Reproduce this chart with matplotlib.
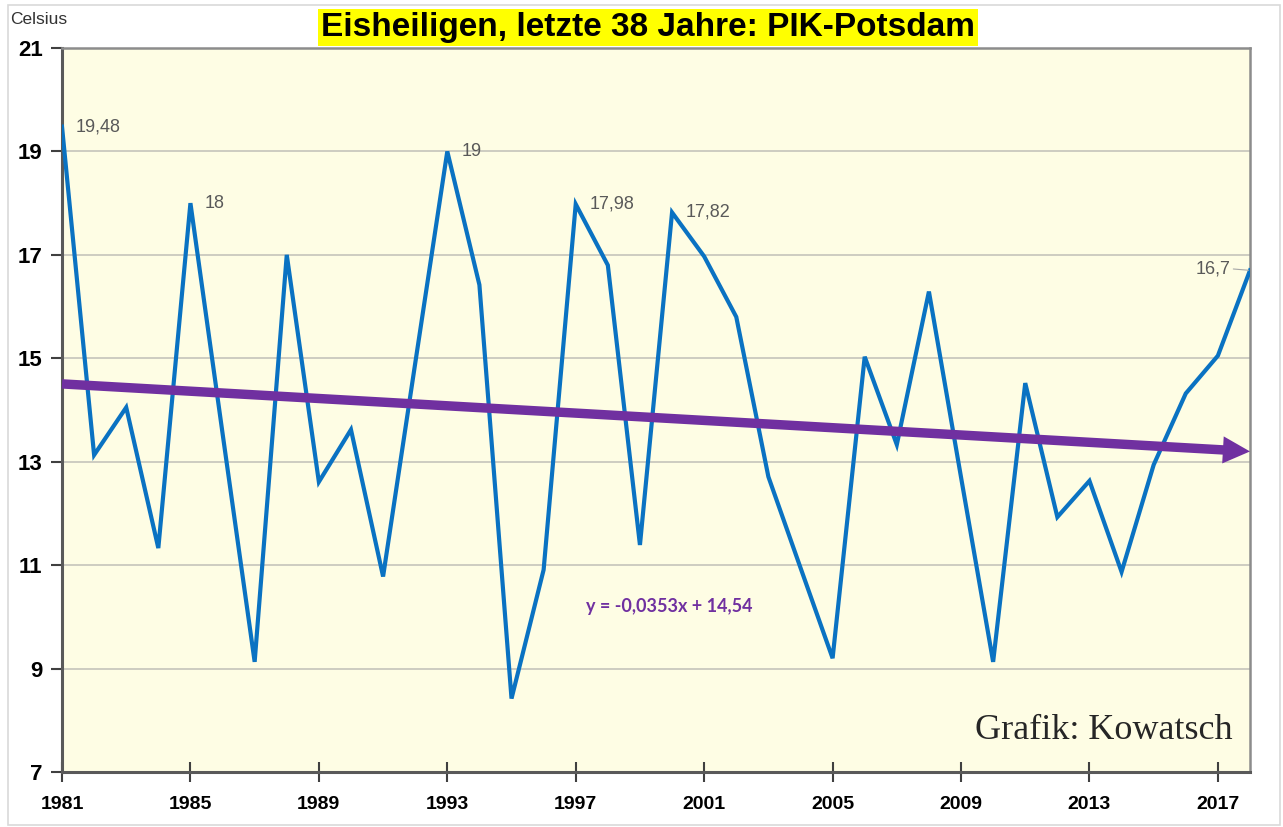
import matplotlib
matplotlib.use("Agg")
import matplotlib.pyplot as plt
from matplotlib.patches import FancyArrowPatch

# data (Eisheiligen, PIK Potsdam)
years = list(range(1981, 2019))
temps = [19.48, 13.13, 14.05, 11.33, 18.0, 13.55, 9.13, 17.0, 12.61, 13.62,
         10.78, 14.9, 19.0, 16.42, 8.42, 10.91, 17.98, 16.8, 11.39, 17.82,
         16.97, 15.8, 12.71, 10.95, 9.2, 15.03, 13.33, 16.29, 12.7, 9.13,
         14.52, 11.93, 12.63, 10.87, 12.94, 14.32, 15.05, 16.7]

# linear trend as printed in the chart: y = -0,0353x + 14,54 (x = 1..38)
slope = -0.0353
intercept = 14.54

# values that get a data label, and where the label goes
label_years = [1981, 1985, 1993, 1997, 2000, 2018]
label_side = ['right', 'right', 'right', 'right', 'right', 'left']

yticks = [7, 9, 11, 13, 15, 17, 19, 21]
xticks = list(range(1981, 2018, 4))

blue = '#0A72C2'
purple = '#7030A0'

plt.rcParams['font.family'] = ['Liberation Sans', 'DejaVu Sans']

fig = plt.figure(figsize=(12.83, 8.27), dpi=100)
fig.patch.set_facecolor('white')

# thin grey frame round the whole picture
fig.add_artist(plt.Rectangle((8 / 1283, 2 / 827), 1272 / 1283, 820 / 827,
                             transform=fig.transFigure, fill=False,
                             edgecolor='#D9D9D9', lw=1.2))

ax = fig.add_axes([62 / 1283, 55 / 827, 1188 / 1283, 724 / 827])
ax.set_facecolor('#FEFDE4')

ax.plot(years, temps, color=blue, lw=3, zorder=3, solid_joinstyle='miter')

# trend arrow (filled shape, no outline)
t0 = intercept + slope * 1
t1 = intercept + slope * len(years)
arrow = FancyArrowPatch((years[0], t0), (years[-1], t1),
                        arrowstyle='simple,head_length=1.95,head_width=1.95,tail_width=0.68',
                        mutation_scale=10, color=purple, lw=0,
                        shrinkA=0, shrinkB=0, zorder=4, clip_on=False)
ax.add_patch(arrow)

ax.text(1999.9, 10.2, 'y = -0,0353x + 14,54', color=purple, fontsize=13,
        fontweight='bold', family=['Lato', 'DejaVu Sans'], ha='center', va='center')

for yr, side in zip(label_years, label_side):
    v = temps[years.index(yr)]
    txt = ('%g' % v).replace('.', ',')
    if side == 'right':
        ax.annotate(txt, (yr, v), xytext=(10, 0), textcoords='offset points',
                    ha='left', va='center', fontsize=13, color='#595959', zorder=5)
    else:
        ax.annotate(txt, (yr, v), xytext=(-14, 1), textcoords='offset points',
                    ha='right', va='center', fontsize=13, color='#595959', zorder=5)
        ax.annotate('', (yr, v), xytext=(-12, 1), textcoords='offset points',
                    arrowprops=dict(arrowstyle='-', color='#A6A6A6', lw=0.8,
                                    shrinkA=0, shrinkB=1),
                    annotation_clip=False)

ax.set_xlim(1981, 2018)
ax.set_ylim(7, 21)
ax.set_yticks(yticks)
ax.set_xticks(xticks)
ax.set_yticklabels([str(t) for t in yticks], fontsize=16, fontweight='bold')
ax.set_xticklabels([str(t) for t in xticks], fontsize=14, fontweight='bold')
ax.tick_params(axis='y', direction='out', length=8, width=1.5, color='#404040', pad=6)
ax.tick_params(axis='x', direction='inout', length=14, width=1.5, color='#404040', pad=10)

ax.yaxis.grid(True, color='#C9C8BE', lw=1.3)
ax.set_axisbelow(True)

for s in ['left', 'bottom']:
    ax.spines[s].set_color('#595959')
    ax.spines[s].set_linewidth(2.2)
for s in ['top', 'right']:
    ax.spines[s].set_color('#8C8C8C')
    ax.spines[s].set_linewidth(1.8)

ax.text(0.985, 0.035, 'Grafik: Kowatsch', transform=ax.transAxes, ha='right',
        va='bottom', fontsize=26, family='Liberation Serif', color='#262626')

fig.text(10 / 1283, 1 - 20 / 827, 'Celsius', fontsize=12.5, color='#333333',
         ha='left', va='center')

fig.text(648 / 1283, 1 - 27.5 / 827, 'Eisheiligen, letzte 38 Jahre: PIK-Potsdam',
         fontsize=24, fontweight='bold', ha='center', va='center',
         bbox=dict(boxstyle='square,pad=0.1', facecolor='#FFFF00', edgecolor='none'))

fig.savefig('out.png', dpi=100)
